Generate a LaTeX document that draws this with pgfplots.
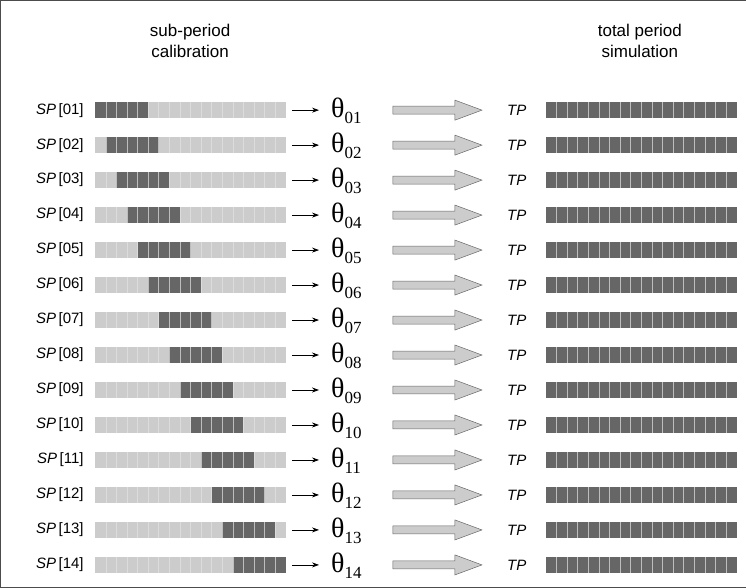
\documentclass[border=0pt]{standalone}
\usepackage{pgfplots}
\pgfplotsset{compat=1.18}
\usetikzlibrary{arrows.meta}
\usepackage{fontspec}
\setmainfont{Liberation Sans}
\newfontfamily\serf{Liberation Serif}
\definecolor{lg}{RGB}{204,204,204}
\definecolor{dg}{RGB}{102,102,102}
\begin{document}
\begin{tikzpicture}
\begin{axis}[width=746pt,height=587pt,scale only axis,
  xmin=0,xmax=746,ymin=0,ymax=587,y dir=reverse,
  xtick=\empty,ytick=\empty,axis line style={black!70},
  clip=false,unbounded coords=jump]
\node[align=center,font=\fontsize{17}{21}\selectfont] at (axis cs:190,41) {sub-period\\calibration};
\node[align=center,font=\fontsize{17}{21}\selectfont] at (axis cs:640,41) {total period\\simulation};
\pgfplotsinvokeforeach{1,...,14}{
  \pgfmathsetmacro\ya{110+35*(#1-1)-8}
  \pgfmathsetmacro\yb{110+35*(#1-1)+8}
  \pgfmathsetmacro\yc{110+35*(#1-1)}
  \pgfmathsetmacro\ysa{\yc-4}\pgfmathsetmacro\ysb{\yc+4}
  \pgfmathsetmacro\yha{\yc-10}\pgfmathsetmacro\yhb{\yc+10}
  \pgfmathsetmacro\xs{95+10.6*(#1-1)}
  \pgfmathsetmacro\xe{\xs+53}
  \gdef\seg{}
  \pgfplotsforeachungrouped \k in {1,...,17}{%
    \pgfmathsetmacro\xx{95+10.6*\k}\pgfmathsetmacro\xr{546+10.6*\k}%
    \xdef\seg{\seg (\xx,\ya) (\xx,\yb) (\xx,nan) (\xr,\ya) (\xr,\yb) (\xr,nan)}}
  \edef\tmp{%
    \noexpand\addplot[fill=lg,draw=none] coordinates {(95,\ya) (285.8,\ya) (285.8,\yb) (95,\yb)} --cycle;
    \noexpand\addplot[fill=dg,draw=none] coordinates {(\xs,\ya) (\xe,\ya) (\xe,\yb) (\xs,\yb)} --cycle;
    \noexpand\addplot[fill=dg,draw=none] coordinates {(546,\ya) (736.8,\ya) (736.8,\yb) (546,\yb)} --cycle;
    \noexpand\addplot[lg!55!white,line width=0.45pt,opacity=0.7] coordinates {\seg};
    \noexpand\addplot[fill=lg,draw=black!60,line width=0.5pt] coordinates {(393,\ysa) (455,\ysa) (455,\yha) (482,\yc) (455,\yhb) (455,\ysb) (393,\ysb)} --cycle;
    \noexpand\addplot[black,line width=0.8pt,-{Stealth[length=7pt,width=5pt]}] coordinates {(292,\yc) (319,\yc)};
  }\tmp
  \node[anchor=east,font=\fontsize{15}{15}\selectfont] at (axis cs:87,{110+35*(#1-1)}) {\textit{SP}\,[\ifnum#1<10 0\fi#1]};
  \node[anchor=west,inner sep=0pt] at (axis cs:331,{110+35*(#1-1)+1}) {\serf\fontsize{28}{28}\selectfont θ\raisebox{-6pt}{\fontsize{17}{17}\selectfont\ifnum#1<10 0\fi#1}};
  \node[anchor=east,font=\fontsize{15}{15}\selectfont\itshape] at (axis cs:530,{110+35*(#1-1)}) {TP};
}
\end{axis}
\end{tikzpicture}
\end{document}
